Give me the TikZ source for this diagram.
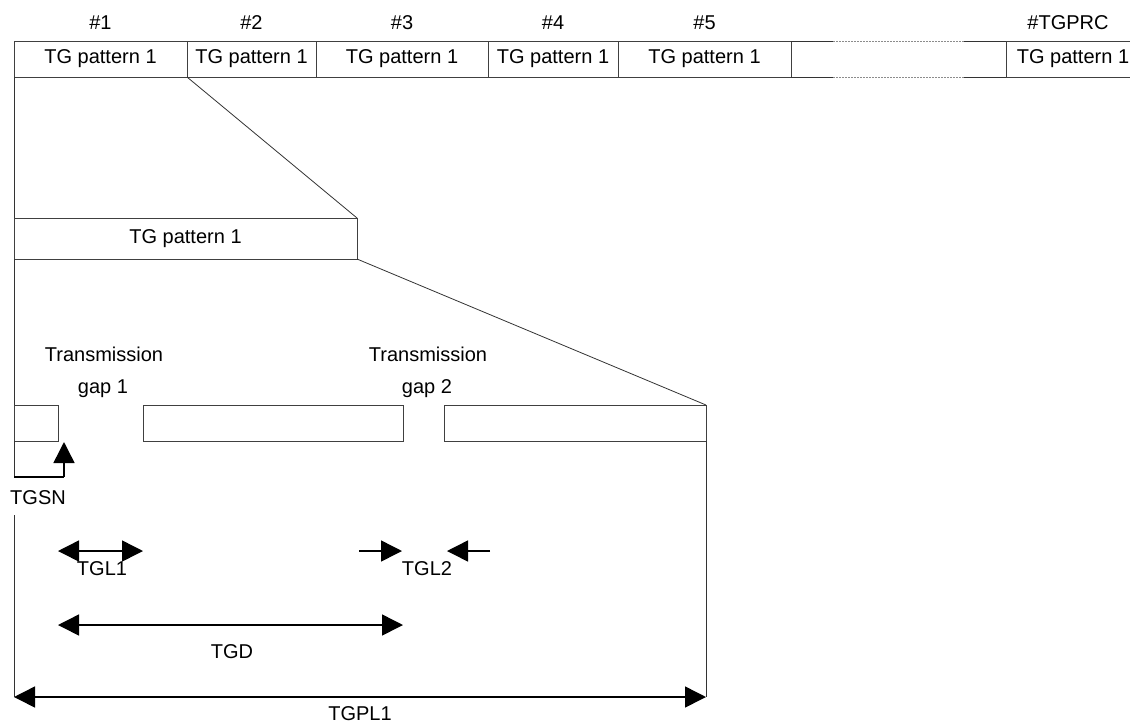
\documentclass[tikz,border=0pt]{standalone}
\usepackage{fontspec}
\setmainfont{Liberation Sans}
\usetikzlibrary{arrows.meta}
\begin{document}
\begin{tikzpicture}[x=1pt,y=-1pt,
  txt/.style={inner sep=0pt, outer sep=0pt, font=\fontsize{20}{24}\selectfont},
  box/.style={txt, draw=black!75, line width=0.9pt, minimum height=36pt},
  thinline/.style={draw=black!80, line width=0.8pt},
  dotline/.style={draw=black!45, line width=0.8pt, dash pattern=on 2pt off 1pt},
  tri/.style={Triangle[length=21pt,width=21pt]},
  dimline/.style={line width=1.5pt, {Triangle[length=21pt,width=21pt]}-{Triangle[length=21pt,width=21pt]}},
  oneline/.style={line width=1.5pt, -{Triangle[length=21pt,width=21pt]}}]
\useasboundingbox (0,0) rectangle (1130,724);
\clip (0,0) rectangle (1130,724);

% top row
\node[box, minimum width=173pt] (p1) at (100.5,59) {TG pattern 1};
\node[box, minimum width=129pt] (p2) at (251.5,59) {TG pattern 1};
\node[box, minimum width=172pt] (p3) at (402,59) {TG pattern 1};
\node[box, minimum width=130pt] (p4) at (553,59) {TG pattern 1};
\node[box, minimum width=173pt] (p5) at (704.5,59) {TG pattern 1};
\node[box, minimum width=134pt] (p6) at (1073,59) {TG pattern 1};
\coordinate (g1) at (833,41);
\coordinate (g2) at (964,41);
\coordinate (g3) at (833,77);
\coordinate (g4) at (964,77);
\draw[thinline] (p5.north east) -- (g1);
\draw[dotline] (g1) -- (g2);
\draw[thinline] (g2) -- (p6.north west);
\draw[thinline] (p5.south east) -- (g3);
\draw[dotline] (g3) -- (g4);
\draw[thinline] (g4) -- (p6.south west);

\node[txt] (h1) at (100.5,23) {\#1};
\node[txt] (h2) at (251.5,23) {\#2};
\node[txt] (h3) at (402,23) {\#3};
\node[txt] (h4) at (553,23) {\#4};
\node[txt] (h5) at (704.5,23) {\#5};
\node[txt] (h6) at (1068,23) {\#TGPRC};

% second row
\node[box, minimum width=343pt, minimum height=41pt] (q) at (185.5,238.5) {TG pattern 1};

% third row
\node[box, minimum width=44pt] (a) at (36,423) {};
\node[box, minimum width=260pt] (b) at (273,423) {};
\node[box, minimum width=262pt] (c) at (575,423) {};

% zoom lines
\draw[thinline] (p1.south east) -- (q.north east);
\draw[thinline] (q.south east) -- (c.north east);
\draw[thinline] (p1.south west) -- (q.north west);
\draw[thinline] (q.south west) -- (a.north west);

% TGSN hook
\coordinate (s1) at (14,477);
\coordinate (s2) at (64,477);
\coordinate (stip) at (64,442);
\draw[thinline] (a.south west) -- (s1);
\draw[line width=1.5pt] (s1) -- (s2);
\draw[oneline] (s2) -- (stip);
\node[txt] (tgsn) at (38,498) {TGSN};

% verticals down to TGPL1
\coordinate (v1) at (14,515);
\coordinate (v2) at (14,697);
\coordinate (v3) at (706,697);
\draw[thinline] (v1) -- (v2);
\draw[thinline] (c.south east) -- (v3);

% labels
\node[txt] (tr1) at (104,354) {Transmission};
\node[txt] (gp1) at (103,389) {gap 1};
\node[txt] (tr2) at (428,354) {Transmission};
\node[txt] (gp2) at (427,389) {gap 2};

% TGL1
\coordinate (l1a) at (58,551);
\coordinate (l1b) at (143,551);
\draw[dimline] (l1a) -- (l1b);
\node[txt] (tgl1) at (102,569) {TGL1};

% TGL2
\coordinate (l2a) at (359,551);
\coordinate (l2b) at (402,551);
\coordinate (l2c) at (490,551);
\coordinate (l2d) at (447,551);
\draw[oneline] (l2a) -- (l2b);
\draw[oneline] (l2c) -- (l2d);
\node[txt] (tgl2) at (427,569) {TGL2};

% TGD
\coordinate (da) at (58,625);
\coordinate (db) at (403,625);
\draw[dimline] (da) -- (db);
\node[txt] (tgd) at (232,652) {TGD};

% TGPL1
\draw[dimline] (v2) -- (v3);
\node[txt] (tgpl) at (360,714) {TGPL1};
\end{tikzpicture}
\end{document}
